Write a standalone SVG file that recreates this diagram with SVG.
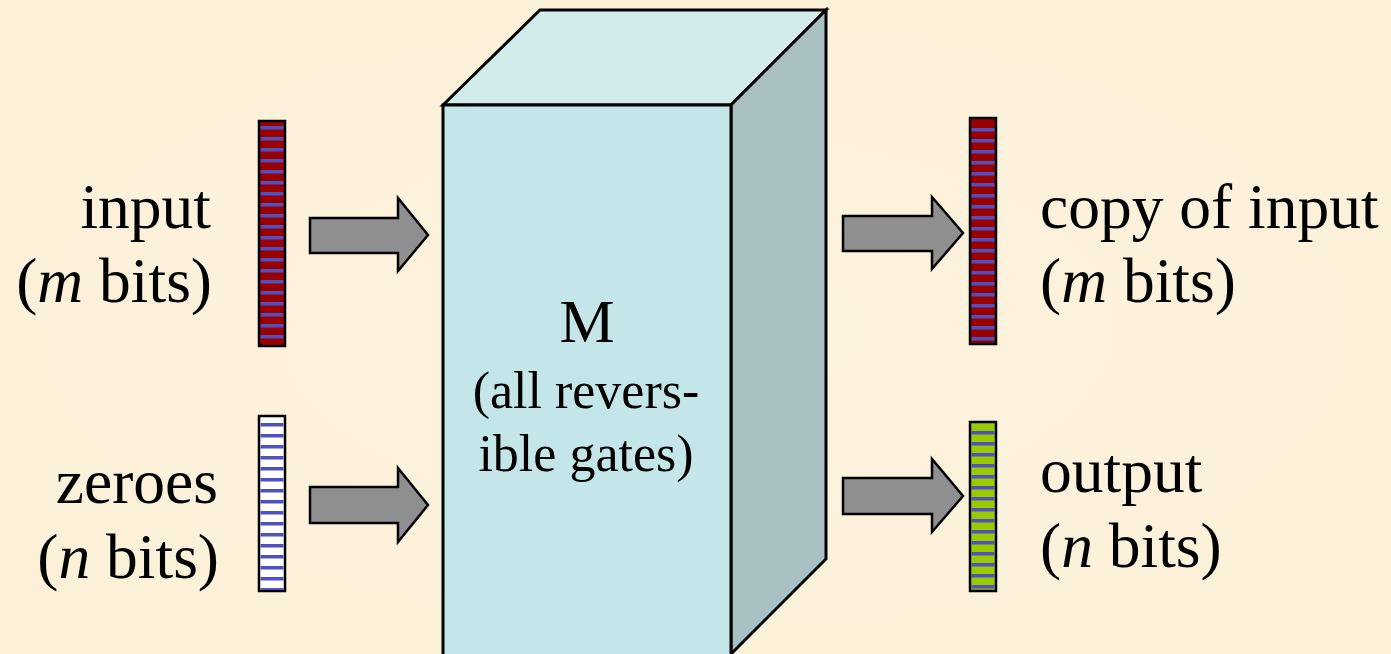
<svg xmlns="http://www.w3.org/2000/svg" width="1391" height="654" viewBox="0 0 1391 654">
<style>
.lbl{font-family:"Liberation Serif","Times New Roman",serif;font-size:63.5px;fill:#000}
.box{font-family:"Liberation Serif","Times New Roman",serif;font-size:52px;fill:#000;text-anchor:middle}
.big{font-size:62px}
.bar{stroke:#000;stroke-width:2.5}
.stripe{stroke:#5050C0;stroke-width:23;stroke-dasharray:3.5 7.5}
.arrow{fill:#8F8F8F;stroke:#000;stroke-width:2.5;stroke-linejoin:miter}
.edge{stroke:#000;stroke-width:3;stroke-linejoin:miter}
</style>
<defs>
<radialGradient id="bg" cx="50%" cy="50%" r="75%">
<stop offset="0" stop-color="#FDF4DF"/>
<stop offset="1" stop-color="#FBEFD6"/>
</radialGradient>
</defs>
<rect width="1391" height="654" fill="url(#bg)"/>

<g id="cube">
<polygon class="edge" points="443,105 540,10 826,10 731,105" fill="#D2EBEC"/>
<polygon class="edge" points="731,105 826,10 826,559 731,654" fill="#A8C0C2"/>
<polygon class="edge" points="443,105 731,105 731,658 443,658" fill="#C5E6E8"/>
<text class="box big" x="587" y="342">M</text>
<text class="box" x="586" y="408">(all revers-</text>
<text class="box" x="586" y="471">ible gates)</text>
</g>

<g id="input">
<rect class="bar" x="259" y="121" width="26" height="225" fill="#990000"/>
<line class="stripe" x1="272" y1="126" x2="272" y2="345"/>
<text class="lbl" x="211" y="228" text-anchor="end">input</text>
<text class="lbl" x="212" y="302" text-anchor="end">(<tspan font-style="italic">m</tspan> bits)</text>
</g>

<g id="zeroes">
<rect class="bar" x="259" y="416" width="26" height="175" fill="#FFFFFF"/>
<line class="stripe" x1="272" y1="423" x2="272" y2="590"/>
<text class="lbl" x="218" y="503" text-anchor="end">zeroes</text>
<text class="lbl" x="219" y="578" text-anchor="end">(<tspan font-style="italic">n</tspan> bits)</text>
</g>

<g id="copy">
<rect class="bar" x="970" y="118" width="26" height="226" fill="#990000"/>
<line class="stripe" x1="983" y1="128" x2="983" y2="343"/>
<text class="lbl" x="1040" y="228">copy of input</text>
<text class="lbl" x="1040" y="302">(<tspan font-style="italic">m</tspan> bits)</text>
</g>

<g id="output">
<rect class="bar" x="970" y="422" width="26" height="169" fill="#99CC00"/>
<line class="stripe" x1="983" y1="431" x2="983" y2="590"/>
<text class="lbl" x="1040" y="492">output</text>
<text class="lbl" x="1040" y="567">(<tspan font-style="italic">n</tspan> bits)</text>
</g>

<g id="connectors">
<polygon class="arrow" points="310,218 398,218 398,198 428,235 398,271 398,253 310,253"/>
<polygon class="arrow" points="310,487 398,487 398,468 428,505 398,542 398,523 310,523"/>
<polygon class="arrow" points="843,216 932,216 932,197 963,233 932,269 932,251 843,251"/>
<polygon class="arrow" points="843,478 932,478 932,459 963,496 932,532 932,514 843,514"/>
</g>
</svg>
